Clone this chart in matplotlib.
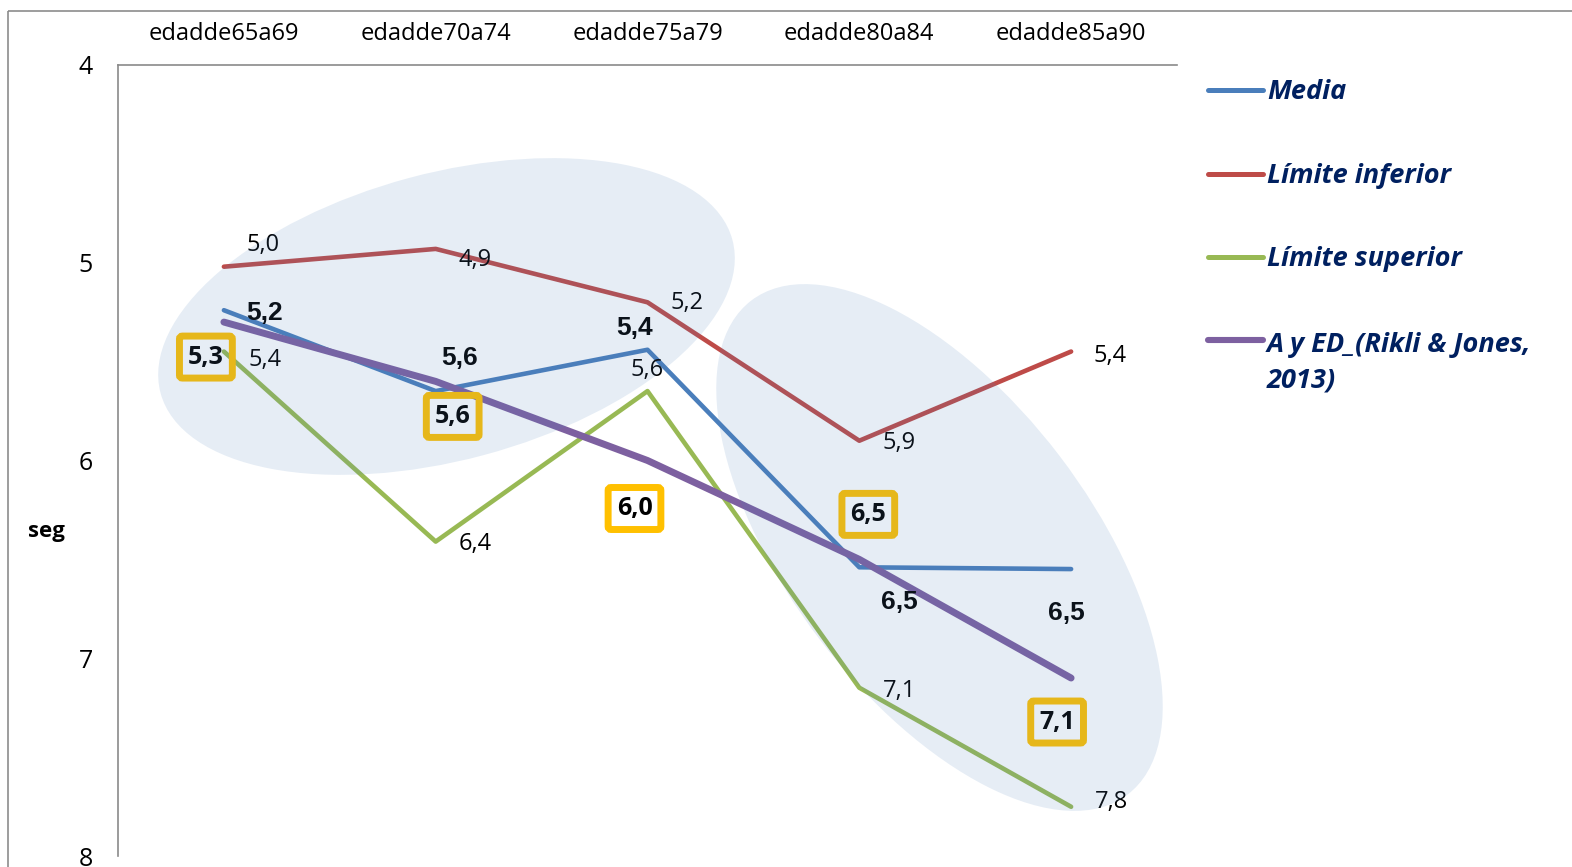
import matplotlib
matplotlib.use("Agg")
import matplotlib.pyplot as plt
from matplotlib.patches import Ellipse, Rectangle
from matplotlib.lines import Line2D
from matplotlib.transforms import Affine2D

# ---- data -------------------------------------------------------------
categories = ["edadde65a69", "edadde70a74", "edadde75a79", "edadde80a84", "edadde85a90"]
media = [5.24, 5.649, 5.44, 6.54, 6.549]
limite_inferior = [5.02, 4.93, 5.20, 5.90, 5.449]
limite_superior = [5.449, 6.41, 5.649, 7.149, 7.751]
rikli_jones = [5.3, 5.6, 6.0, 6.5, 7.1]

series_names = ["Media", "Límite inferior", "Límite superior", "A y ED_(Rikli & Jones,\n2013)"]
y_ticks = [4, 5, 6, 7, 8]

# ---- figure -----------------------------------------------------------
W, H = 1572, 867
fig = plt.figure(figsize=(W / 100, H / 100), dpi=100)
FONT = ["Open Sans", "DejaVu Sans"]
NARROW = ["Liberation Sans Narrow", "Liberation Sans", "DejaVu Sans"]
plt.rcParams["font.family"] = FONT

# screen-pixel transform (origin top-left, y downwards)
px = Affine2D().scale(1, -1).translate(0, H)

ax = fig.add_axes([118 / W, (H - 856) / H, (1177 - 118) / W, (856 - 65) / H])
ax.set_facecolor("none")

x = list(range(len(categories)))
colors = ["#4A7EBB", "#BE4B48", "#98B954", "#7D60A0"]
widths = [3.3, 3.3, 3.3, 5.0]
all_series = [media, limite_inferior, limite_superior, rikli_jones]
for vals, c, lw in zip(all_series, colors, widths):
    ax.plot(x, vals, color=c, lw=lw, solid_capstyle="round", solid_joinstyle="round", zorder=3)

ax.set_xlim(-0.5, len(categories) - 0.5)
ax.set_ylim(8, 4)
ax.set_yticks(y_ticks)
ax.set_yticklabels([str(t) for t in y_ticks])
ax.set_xticks(x)
ax.set_xticklabels(categories)
ax.xaxis.tick_top()
ax.tick_params(axis="x", length=0, pad=14, labelsize=17)
ax.tick_params(axis="y", length=0, pad=18, labelsize=18)
for s in ("right", "bottom"):
    ax.spines[s].set_visible(False)
for s in ("left", "top"):
    ax.spines[s].set_color("#8A8A8A")
    ax.spines[s].set_linewidth(1.2)

ax.set_ylabel("seg", rotation=0, fontsize=16, fontweight="bold", va="center", ha="center")
ax.yaxis.set_label_coords((46 - 118) / (1177 - 118), 1 - (531 - 65) / (856 - 65))


def fmt(v):
    return f"{v:.1f}".replace(".", ",")


# value labels (pixel offsets from each point)
off_inf = [(39, 22), (39, -11), (40, -1), (40, -2), (39, -4)]
off_sup = [(41, -8), (39, -2), (0, 21), (40, -3), (40, 5)]
off_media = [(41, -3), (24, 33), (-13, 22), (40, -35), (-5, -44)]
off_rikli = [(-18, -35), (17, -35), (-13, -48), (9, 45), (-14, -44)]

for i, v in enumerate(limite_inferior):
    ax.annotate(fmt(v), (i, v), xytext=off_inf[i], textcoords="offset pixels",
                ha="center", va="center", fontsize=17, color="black", zorder=5)
for i, v in enumerate(limite_superior):
    ax.annotate(fmt(v), (i, v), xytext=off_sup[i], textcoords="offset pixels",
                ha="center", va="center", fontsize=17, color="black", zorder=5)
for i, v in enumerate(media):
    ax.annotate(fmt(v), (i, v), xytext=off_media[i], textcoords="offset pixels",
                ha="center", va="center", fontsize=19, fontweight="bold",
                family=NARROW, color="black", zorder=5)
for i, v in enumerate(rikli_jones):
    ax.annotate(fmt(v), (i, v), xytext=off_rikli[i], textcoords="offset pixels",
                ha="center", va="center", fontsize=18, fontweight="bold", color="black",
                zorder=5,
                bbox=dict(boxstyle="round,pad=0.34,rounding_size=0.12", fc="none",
                          ec="#FFC000", lw=5.0))

# translucent highlight ellipses drawn over the plot
for (cx, cy), w, h, ang in [((446.5, 316.5), 592, 287, -15), ((939.5, 547.5), 621, 302, 52.7)]:
    fig.add_artist(Ellipse((cx, cy), w, h, angle=ang, transform=px,
                           facecolor="#4F81BD", alpha=0.14, edgecolor="none", zorder=6))

# legend
leg_y = [90, 174, 257, 340]
line_gap = 39
for yy, c, name, lw in zip(leg_y, colors, series_names, [3.6, 3.6, 3.6, 4.4]):
    fig.add_artist(Line2D([1208, 1263], [yy, yy], transform=px, color=c, lw=lw,
                          solid_capstyle="round"))
    extra = name.count("\n") * line_gap
    fig.text(1267, yy + 9 + extra, name, transform=px, ha="left", va="baseline",
             fontsize=19.5, fontweight="bold", style="italic", color="#002060",
             linespacing=1.48)

# outer chart frame
fig.add_artist(Rectangle((8, 11), 1700, 1000, transform=px, fill=False,
                         edgecolor="#8C8C8C", lw=1.2))

fig.savefig("out.png", dpi=100)
